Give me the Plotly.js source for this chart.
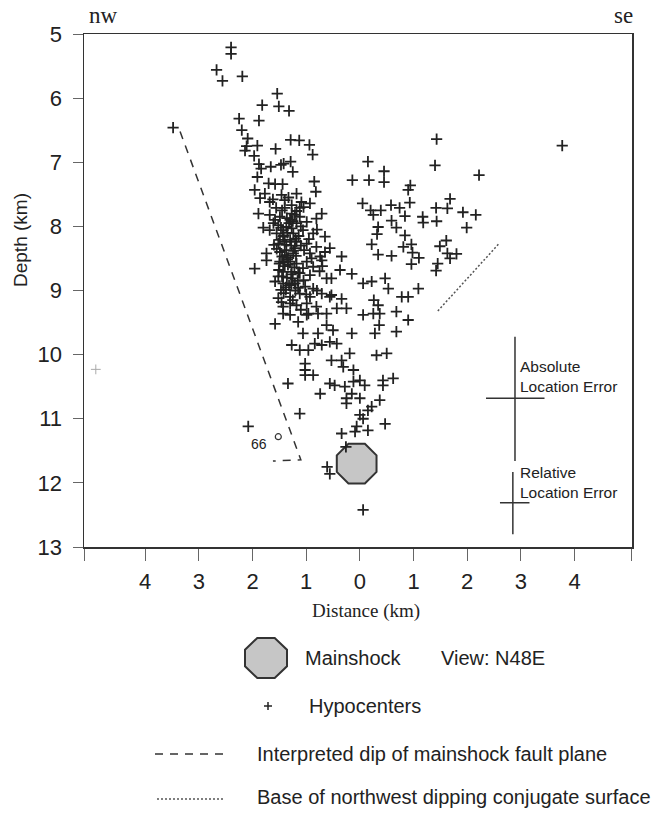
<!DOCTYPE html>
<html>
<head>
<meta charset="utf-8">
<script src="https://cdn.plot.ly/plotly-3.0.1.min.js"></script>
<style>html,body{margin:0;padding:0;background:#fff;}#chart{width:661px;height:814px;}</style>
</head>
<body>
<div id="chart"></div>
<script>
// ---------- DATA (km) ----------
const hypoX = [
-2.40,-2.40,-2.67,-2.56,-2.19,-1.54,-1.82,-1.51,-1.32,-2.25,-1.88,-2.20,-2.09,-2.11,-2.14,-1.91,-1.97,-1.57,-1.29,-1.13,-0.94,-0.88,-1.88,-1.84,-1.66,-1.47,-1.29,-1.25,-1.42,-1.91,-1.70,-1.58,-1.44,-0.85,-1.96,-0.82,-3.48,
1.43,1.40,2.22,0.15,0.45,-0.14,0.17,0.45,0.94,3.77,
-1.77,-1.46,-1.18,-1.86,-1.68,-1.40,-1.27,-1.09,-0.93,-1.89,-1.68,-1.49,-1.27,-1.12,-0.71,-1.80,-1.61,-1.52,-1.37,-1.18,-0.99,-0.81,
-1.55,-1.43,-1.24,-1.06,-0.87,-0.65,-1.52,-1.37,-1.18,-0.99,-0.81,-1.74,-1.74,-1.49,-1.37,-1.24,-0.93,-0.74,-0.56,
-1.96,-1.49,-1.34,-1.18,-0.99,-0.87,-0.71,-1.43,-1.27,-1.12,-0.93,-0.62,-0.53,-1.58,-1.43,-1.21,-1.02,-0.87,
-1.52,-1.30,-1.12,-0.93,-0.71,-0.56,-0.37,
-1.40,-1.30,-1.43,-1.30,-1.21,-1.34,-1.25,-1.15,-1.06,-1.56,-1.12,-1.38,-1.60,-1.14,-1.42,
-1.49,-1.27,-1.40,-1.51,-1.19,-1.32,-1.47,-1.04,-1.21,-1.68,-1.36,-1.45,
-1.62,-1.33,-1.05,-1.45,-1.18,-1.58,-1.25,-1.10,-1.47,-1.35,-1.20,-1.40,-1.28,-1.55,-1.10,-1.45,-1.30,-1.22,-1.40,-1.15,-1.36,-1.52,-1.05,-1.28,-1.20,-1.42,-1.00,-1.25,-1.10,-0.80,-0.75,-0.90,-0.65,-0.95,-0.80,-0.70,
-1.32,-1.42,-1.24,-1.35,-1.50,-1.28,-1.16,-1.38,-1.30,-1.46,
0.90,0.05,0.20,0.39,0.58,0.74,0.93,0.84,1.42,1.68,1.63,1.92,2.16,1.99,0.59,0.68,0.34,0.32,1.17,1.18,1.43,0.84,0.22,0.81,0.96,0.98,1.10,0.34,0.59,0.96,1.49,1.61,1.63,1.80,1.68,1.45,-0.34,0.25,1.42,
-0.15,0.06,0.22,0.47,0.53,0.78,0.90,1.09,-0.53,-0.34,0.26,0.34,0.90,0.06,
-1.43,-1.30,-1.58,-1.15,-0.96,-0.81,-0.62,-1.06,-0.78,-0.62,-1.27,-1.12,-0.96,-0.84,-0.71,-1.02,-1.02,-1.02,-0.87,-1.34,-0.74,-1.12,-2.08,-0.61,-0.56,-1.43,-1.18,-0.99,-0.99,-0.78,
-0.43,-0.25,0.06,0.25,0.37,0.68,-0.50,-0.15,0.28,0.36,0.68,-0.56,-0.43,-0.19,-0.34,-0.53,0.31,0.50,-0.31,-0.12,-0.56,-0.47,-0.28,-0.12,0.00,0.09,0.43,0.43,0.62,
-0.25,-0.15,0.00,-0.25,0.37,0.22,0.00,0.06,0.15,0.47,-0.06,-0.09,-0.34,0.15,-0.26
];
const hypoY = [
5.21,5.31,5.56,5.73,5.66,5.93,6.11,6.13,6.20,6.32,6.35,6.50,6.63,6.75,6.82,6.74,6.90,6.79,6.65,6.66,6.73,6.88,7.03,7.10,7.07,7.04,6.99,7.15,7.02,7.23,7.33,7.34,7.34,7.30,7.43,7.46,6.46,
6.64,7.05,7.20,6.99,7.14,7.28,7.28,7.31,7.36,6.74,
7.49,7.51,7.49,7.56,7.62,7.59,7.67,7.62,7.64,7.80,7.82,7.85,7.80,7.85,7.80,8.02,7.95,7.98,8.01,7.95,7.93,7.88,
8.11,8.16,8.11,8.06,8.11,8.16,8.27,8.29,8.24,8.27,8.32,8.42,8.53,8.40,8.45,8.42,8.42,8.47,8.34,
8.66,8.55,8.60,8.58,8.55,8.63,8.53,8.71,8.71,8.73,8.76,8.81,8.81,8.86,8.89,8.89,8.94,8.97,
9.12,9.10,9.05,9.10,9.05,9.10,8.68,
7.71,7.90,8.06,8.21,8.34,8.49,8.81,8.96,8.65,7.71,7.71,8.99,8.29,8.15,8.56,
8.21,8.03,8.37,8.68,8.46,8.92,8.99,8.37,7.82,8.06,7.87,8.78,
7.58,7.55,7.70,7.75,7.76,7.90,7.92,8.00,8.02,8.10,8.19,8.24,8.30,8.35,8.30,8.47,8.55,8.64,8.62,8.72,8.80,8.78,8.84,8.90,9.00,9.04,9.06,9.15,9.30,9.00,8.70,8.50,8.40,8.20,8.05,8.62,
7.95,8.14,8.38,8.52,8.58,8.75,8.85,8.95,9.20,9.18,
7.43,7.64,7.75,7.75,7.67,7.71,7.63,7.84,7.71,7.57,7.72,7.78,7.82,8.02,7.91,8.02,8.01,8.12,7.85,7.94,7.92,8.14,8.28,8.32,8.28,8.41,8.49,8.44,8.46,8.59,8.31,8.22,8.42,8.43,8.50,8.58,8.47,7.82,8.69,
8.74,8.89,8.86,8.81,8.97,9.10,9.10,8.97,9.07,9.13,9.15,9.23,9.46,12.42,
9.36,9.38,9.52,9.49,9.36,9.25,9.36,9.67,9.67,9.54,9.85,9.93,9.93,9.83,9.85,10.14,10.24,10.32,10.32,10.45,10.61,10.92,11.12,11.75,11.86,9.25,9.23,9.20,9.38,9.36,
9.28,9.28,9.38,9.36,9.36,9.33,9.62,9.67,9.67,9.54,9.64,9.80,9.83,9.98,10.09,10.09,10.01,9.98,10.19,10.24,10.45,10.48,10.50,10.42,10.40,10.48,10.40,10.48,10.37,
10.68,10.61,10.68,10.76,10.71,10.81,10.94,11.00,10.87,11.08,11.12,11.20,11.23,11.18,11.44
];
const farX = [-4.92], farY = [10.23];           // faint outlying hypocenter
const ev66X = [-1.52], ev66Y = [11.28];          // event 66 (open circle)
const mainX = [-0.06], mainY = [11.70];          // mainshock
const faultX = [-3.35, -1.10, -1.62], faultY = [6.52, 11.64, 11.66];   // interpreted dip of fault plane
const conjX = [2.58, 1.44], conjY = [8.28, 9.33];                      // base of conjugate surface
const absErrX = [2.89, 2.89, null, 2.35, 3.44], absErrY = [9.72, 11.66, null, 10.68, 10.68];
const relErrX = [2.85, 2.85, null, 2.61, 3.16], relErrY = [11.83, 12.80, null, 12.31, 12.31];
const xTickVals = [-5.13, -4, -3, -2, -1, 0, 1, 2, 3, 4, 5.06];
const xTickText = ['', '4', '3', '2', '1', '0', '1', '2', '3', '4', ''];
const yTickVals = [5, 6, 7, 8, 9, 10, 11, 12, 13];

// ---------- LAYOUT HELPERS ----------
const W = 661, H = 814, ML = 84, MR = 29, MT = 34, MB = 267;
const PW = W - ML - MR, PH = H - MT - MB;
const px = v => (v - ML) / PW;
const py = v => (H - MB - v) / PH;
const SANS = 'Liberation Sans, Arial, sans-serif';
const NARROW = 'Liberation Sans Narrow, Arial Narrow, Liberation Sans, sans-serif';
const SERIF = 'Liberation Serif, Times New Roman, serif';
const INK = '#222';

const traces = [
  {x: faultX, y: faultY, mode: 'lines', line: {color: '#333', width: 1.5, dash: '8px,7px'}, hoverinfo: 'skip'},
  {x: conjX, y: conjY, mode: 'lines', line: {color: '#555', width: 1.5, dash: '2px,2px'}, hoverinfo: 'skip'},
  {x: absErrX, y: absErrY, mode: 'lines', line: {color: '#333', width: 1.5}, hoverinfo: 'skip'},
  {x: relErrX, y: relErrY, mode: 'lines', line: {color: '#333', width: 1.5}, hoverinfo: 'skip'},
  {x: mainX, y: mainY, mode: 'markers', marker: {symbol: 'octagon', size: 43, color: '#c6c6c6', line: {color: '#333', width: 2}}},
  {x: hypoX, y: hypoY, mode: 'markers', marker: {symbol: 'cross-thin', size: 8, color: INK, line: {color: INK, width: 1.8}}},
  {x: farX, y: farY, mode: 'markers', marker: {symbol: 'cross-thin', size: 7, color: '#aaa', line: {color: '#aaa', width: 1}}},
  {x: ev66X, y: ev66Y, mode: 'markers', marker: {symbol: 'circle-open', size: 6, color: '#333', line: {color: '#333', width: 1.2}}}
];

// legend octagon path (paper coords)
function octPath(cx, cy, ax, ay) {
  const k = 0.4142;
  const pts = [[-k*ax,-ay],[k*ax,-ay],[ax,-k*ay],[ax,k*ay],[k*ax,ay],[-k*ax,ay],[-ax,k*ay],[-ax,-k*ay]];
  return 'M ' + pts.map(p => px(cx + p[0]) + ',' + py(cy + p[1])).join(' L ') + ' Z';
}

const shapes = [
  {type: 'path', xref: 'paper', yref: 'paper', path: octPath(266, 658, 21, 20), fillcolor: '#c6c6c6', line: {color: '#333', width: 2}},
  {type: 'line', xref: 'paper', yref: 'paper', x0: px(264), x1: px(272), y0: py(706), y1: py(706), line: {color: INK, width: 1.5}},
  {type: 'line', xref: 'paper', yref: 'paper', x0: px(268), x1: px(268), y0: py(702), y1: py(710), line: {color: INK, width: 1.5}},
  {type: 'line', xref: 'paper', yref: 'paper', x0: px(155), x1: px(227), y0: py(754), y1: py(754), line: {color: '#333', width: 1.3, dash: '8px,7px'}},
  {type: 'line', xref: 'paper', yref: 'paper', x0: px(157), x1: px(223), y0: py(799), y1: py(799), line: {color: '#555', width: 1.3, dash: '2px,2px'}}
];

function pa(text, x, y, size, family, xanchor, extra) {
  return Object.assign({text, x: px(x), y: py(y), xref: 'paper', yref: 'paper', showarrow: false,
    xanchor: xanchor || 'center', yanchor: 'middle', font: {family, size, color: INK}}, extra || {});
}

const annotations = [
  pa('nw', 103, 15, 23, SERIF),
  pa('se', 623, 16, 23, SERIF),
  pa('Depth (km)', 20, 240, 19, SANS, 'center', {textangle: -90}),
  pa('Distance (km)', 366, 611, 19, SERIF),
  pa('Mainshock', 303, 658, 20, SANS, 'left'),
  pa('View: N48E', 439, 658, 20, SANS, 'left'),
  pa('Hypocenters', 307, 706, 20, SANS, 'left'),
  pa('Interpreted dip of mainshock fault plane', 255, 754, 20, SANS, 'left'),
  pa('Base of northwest dipping conjugate surface', 255, 797, 20, SANS, 'left'),
  {text: 'Absolute<br>Location Error', x: 2.95, y: 10.34, xref: 'x', yref: 'y', showarrow: false,
   xanchor: 'left', yanchor: 'middle', align: 'left', font: {family: SANS, size: 15.5, color: INK}},
  {text: 'Relative<br>Location Error', x: 2.95, y: 11.99, xref: 'x', yref: 'y', showarrow: false,
   xanchor: 'left', yanchor: 'middle', align: 'left', font: {family: SANS, size: 15.5, color: INK}},
  {text: '66', x: -1.88, y: 11.40, xref: 'x', yref: 'y', showarrow: false,
   xanchor: 'center', yanchor: 'middle', font: {family: SANS, size: 14, color: INK}}
];

const layout = {
  width: W, height: H,
  margin: {l: ML, r: MR, t: MT, b: MB, pad: 0},
  paper_bgcolor: '#fff', plot_bgcolor: '#fff',
  showlegend: false,
  xaxis: {
    range: [-5.14, 5.07], tickmode: 'array', tickvals: xTickVals, ticktext: xTickText,
    ticks: 'outside', ticklen: 12, tickwidth: 1, tickcolor: '#666',
    showline: true, linecolor: '#333', linewidth: 1.5, mirror: true,
    showgrid: false, zeroline: false, ticklabelstandoff: 2,
    tickfont: {family: NARROW, size: 22, color: INK}
  },
  yaxis: {
    range: [13, 5], tickmode: 'array', tickvals: yTickVals,
    ticks: 'outside', ticklen: 10, tickwidth: 1, tickcolor: '#666',
    showline: true, linecolor: '#333', linewidth: 1.5, mirror: true,
    showgrid: false, zeroline: false, ticklabelstandoff: 6,
    tickfont: {family: NARROW, size: 22, color: INK}
  },
  shapes, annotations
};

Plotly.newPlot('chart', traces, layout, {staticPlot: true, displayModeBar: false});
</script>
</body>
</html>
